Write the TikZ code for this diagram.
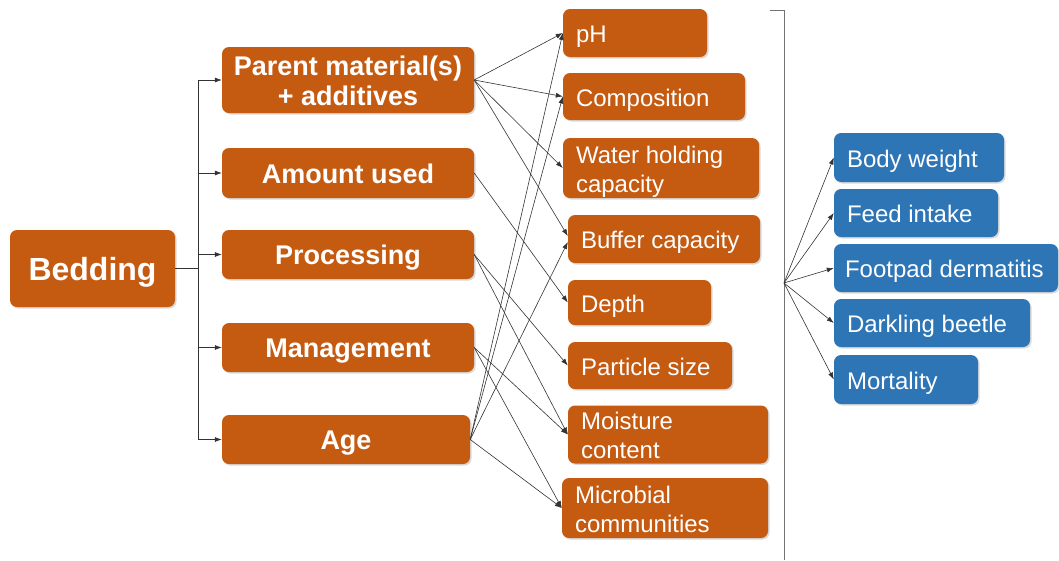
\documentclass[tikz,border=0pt]{standalone}
\usepackage{fontspec}
\setmainfont{Liberation Sans}
\usetikzlibrary{arrows.meta,shadows}
\definecolor{borange}{RGB}{197,90,17}
\definecolor{bblue}{RGB}{46,117,182}
\newcommand{\boxL}[1]{\raisebox{-4pt}[\height][\depth]{\begin{tabular}{@{}l@{}}#1\end{tabular}}}
\newcommand{\boxC}[1]{\raisebox{-4pt}[\height][\depth]{\begin{tabular}{@{}c@{}}#1\end{tabular}}}
\begin{document}
\begin{tikzpicture}[x=1pt,y=-1pt,
  box/.style={rounded corners=7pt, text=white, inner sep=0pt,
    drop shadow={shadow xshift=1.5pt, shadow yshift=-1.5pt, opacity=0.3}},
  bedbox/.style={box, fill=borange, font=\fontsize{32}{36}\selectfont\bfseries,
    minimum width=165pt, minimum height=77pt},
  midbox/.style={box, fill=borange, font=\fontsize{27}{30}\selectfont\bfseries,
    minimum width=252pt},
  rbox/.style={box, fill=borange, font=\fontsize{24}{29}\selectfont, align=flush left},
  bbox/.style={box, fill=bblue, font=\fontsize{24}{29}\selectfont, align=flush left},
  conn/.style={draw=black!80, line width=0.6pt},
  arr/.style={conn, -{Latex[length=7pt,width=5pt]}},
]
\useasboundingbox (0,0) rectangle (1059,560);

% left
\node[bedbox] (bed) at (92.5,268.5) {\raisebox{-4pt}[\height][\depth]{Bedding}};

% middle column
\node[midbox, minimum height=66pt] (pm) at (348,80) {\boxC{Parent material(s)\\+ additives}};
\node[midbox, minimum height=50pt] (amt) at (348,173) {\boxC{Amount used}};
\node[midbox, minimum height=49pt] (proc) at (348,254.5) {\boxC{Processing}};
\node[midbox, minimum height=49pt] (mgmt) at (348,347.5) {\boxC{Management}};
\node[midbox, minimum height=49pt, minimum width=248pt] (age) at (346,439.5) {\boxC{Age}};

% right orange column
\node[rbox, minimum width=144pt, text width=118pt, minimum height=48pt] (ph) at (635,33) {\boxL{pH}};
\node[rbox, minimum width=182pt, text width=156pt, minimum height=47pt] (comp) at (654,96.5) {\boxL{Composition}};
\node[rbox, minimum width=196pt, text width=170pt, minimum height=60pt] (whc) at (661,168) {\boxL{Water holding\\capacity}};
\node[rbox, minimum width=192pt, text width=166pt, minimum height=48pt] (buf) at (664,239) {\boxL{Buffer capacity}};
\node[rbox, minimum width=143pt, text width=117pt, minimum height=45pt] (dep) at (639.5,302.5) {\boxL{Depth}};
\node[rbox, minimum width=164pt, text width=138pt, minimum height=47pt] (par) at (650,365.5) {\boxL{Particle size}};
\node[rbox, minimum width=200pt, text width=174pt, minimum height=55pt] (moi) at (668,434.5) {\boxL{Moisture\\content}};
\node[rbox, minimum width=206pt, text width=180pt, minimum height=60pt] (mic) at (665,508) {\boxL{Microbial\\communities}};

% blue column
\node[bbox, minimum width=170pt, text width=144pt, minimum height=49pt] (bw) at (919,157.5) {\boxL{Body weight}};
\node[bbox, minimum width=164pt, text width=138pt, minimum height=48pt] (fi) at (916,213) {\boxL{Feed intake}};
\node[bbox, minimum width=224pt, text width=202pt, minimum height=48pt] (fd) at (946,268) {\boxL{Footpad dermatitis}};
\node[bbox, minimum width=196pt, text width=170pt, minimum height=48pt] (db) at (932,323) {\boxL{Darkling beetle}};
\node[bbox, minimum width=144pt, text width=118pt, minimum height=49pt] (mo) at (906,379.5) {\boxL{Mortality}};

% tree connectors
\foreach \t in {pm,amt,proc,mgmt,age}
  \draw[arr] (bed.east) -- ++(23.5,0) |- (\t.west);

% middle to right connectors
\draw[arr] (pm.east) -- (ph.west);
\draw[arr] (pm.east) -- (comp.west);
\draw[arr] (pm.east) -- (whc.west);
\draw[arr] (pm.east) -- ([yshift=3pt]buf.west);
\draw[arr] (amt.east) -- (dep.west);
\draw[arr] (proc.east) -- (par.west);
\draw[arr] (proc.east) -- (moi.west);
\draw[arr] (mgmt.east) -- (moi.west);
\draw[arr] (mgmt.east) -- (mic.west);
\draw[arr] (age.east) -- (ph.west);
\draw[arr] (age.east) -- (comp.west);
\draw[arr] (age.east) -- ([yshift=-3pt]buf.west);
\draw[arr] (age.east) -- (mic.west);

% bracket and outcome arrows
\coordinate (tick) at (770,10);
\coordinate (btop) at (784,10);
\coordinate (bbot) at (784,560);
\coordinate (hub) at (784,283);
\draw[draw=black!55, line width=0.8pt] (tick) -- (btop) -- (bbot);
\foreach \t in {bw,fi,fd,db,mo}
  \draw[arr] (hub) -- (\t.west);
\end{tikzpicture}
\end{document}
